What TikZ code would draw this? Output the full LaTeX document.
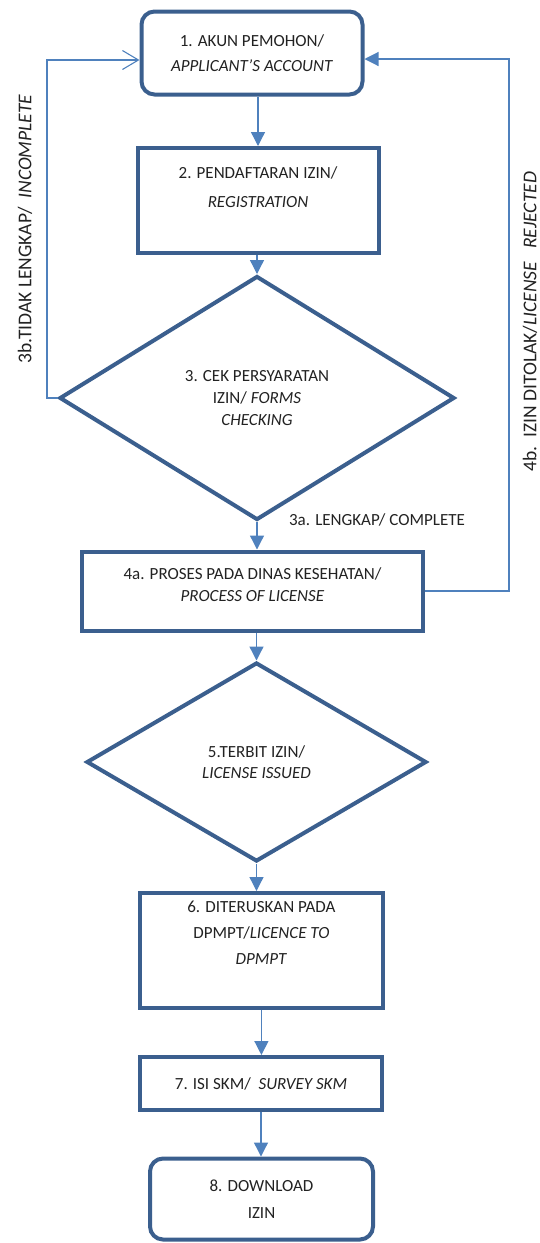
\documentclass[tikz,border=0pt]{standalone}
\usepackage{fontspec}
\setmainfont{Carlito}
\usetikzlibrary{arrows.meta,shapes.geometric}
\definecolor{boxblue}{HTML}{3B5F8E}
\definecolor{linkblue}{HTML}{4F81BD}
\definecolor{txtgray}{HTML}{222222}

\begin{document}
\begin{tikzpicture}[x=1pt,y=-1pt,
    box/.style={draw=boxblue,line width=4pt,fill=white,align=center,inner sep=2pt,
      text=txtgray,font=\fontsize{17}{22}\selectfont},
    rbox/.style={box,rounded corners=13pt},
    decision/.style={box,diamond,aspect=1.6,inner sep=0pt},
    flow/.style={draw=linkblue,line width=1.3pt,-{Triangle[length=14pt,width=14pt]}},
    back/.style={draw=linkblue,line width=1.1pt},
    note/.style={text=txtgray,font=\fontsize{19.5}{22}\selectfont,inner sep=0pt}]
  \useasboundingbox (0,0) rectangle (540,1243);

  % process steps
  \node[rbox,minimum width=221pt,minimum height=83pt] (acct) at (252,53)
    {1. AKUN PEMOHON/\\[3pt] \textit{APPLICANT’S ACCOUNT}};
  \node[box,minimum width=241pt,minimum height=105pt] (reg) at (258,200.5)
    {2. PENDAFTARAN IZIN/\\[7pt] \textit{REGISTRATION}\\[5pt]\mbox{}};
  \node[decision,minimum width=395pt,minimum height=244pt] (check) at (257,398)
    {3. CEK PERSYARATAN\\ IZIN/ \textit{FORMS}\\ \textit{CHECKING}};
  \node[box,minimum width=341pt,minimum height=79pt] (proc) at (252.5,591)
    {4a. PROSES PADA DINAS KESEHATAN/\\ \textit{PROCESS OF LICENSE}\\[-10pt]\mbox{}};
  \node[decision,minimum width=340pt,minimum height=199pt] (issued) at (256.5,762)
    {5.TERBIT IZIN/\\[-1.5pt] \textit{LICENSE ISSUED}};
  \node[box,minimum width=243pt,minimum height=115pt] (dpmpt) at (261.4,950.5)
    {6. DITERUSKAN PADA\\[4pt] DPMPT/\textit{LICENCE TO}\\[4pt] \textit{DPMPT}\\[13pt]\mbox{}};
  \node[box,minimum width=242pt,minimum height=53pt] (survey) at (261,1083.5)
    {7. ISI SKM/\ \ \textit{SURVEY SKM}};
  \node[rbox,minimum width=223pt,minimum height=81pt] (dl) at (261.5,1199)
    {8. DOWNLOAD\\[5pt] IZIN};

  % main flow
  \draw[flow] (reg.north |- acct.south) -- (reg.north);
  \draw[flow] (check.north |- reg.south) -- (check.north);
  \draw[flow] (check.south) -- (check.south |- proc.north);
  \draw[flow] (issued.north |- proc.south) -- (issued.north);
  \draw[flow] (issued.south) -- (issued.south |- dpmpt.north);
  \draw[flow] (dpmpt.south) -- (dpmpt.south |- survey.north);
  \draw[flow] (survey.south) -- (survey.south |- dl.north);

  % loops back to the account
  \coordinate (lft) at (47,60);
  \coordinate (rgt) at (509,59);
  \draw[back,-{Straight Barb[length=16pt,width=19pt]}] (check.west) -| (lft) -- (acct.west |- lft);
  \draw[back,-{Triangle[length=14pt,width=14pt]}] (proc.east) -| (rgt) -- (acct.east |- rgt);

  % labels
  \node[note,rotate=90] (incomplete) at (25,229) {3b.TIDAK LENGKAP/\ \ \textit{INCOMPLETE}};
  \node[note,rotate=90] (rejected) at (530,321.5) {4b.\ \ IZIN DITOLAK/\textit{LICENSE\ \ \ REJECTED}};
  \node[note,font=\fontsize{17}{22}\selectfont] (complete) at (377,519.7) {3a. LENGKAP/ COMPLETE};
\end{tikzpicture}
\end{document}
